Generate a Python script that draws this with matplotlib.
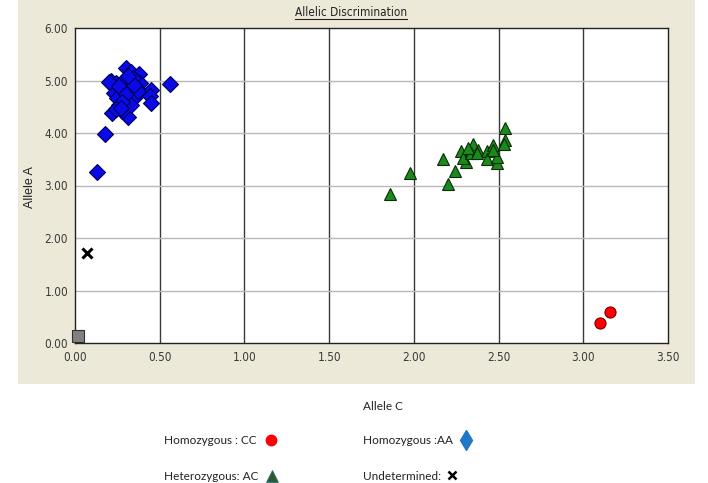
import matplotlib
matplotlib.use('Agg')
import matplotlib.pyplot as plt
from matplotlib.patches import Rectangle
from matplotlib.lines import Line2D

# homozygous AA (blue diamonds)
aa_x = [0.13, 0.18, 0.56, 0.45, 0.44, 0.45, 0.22, 0.31, 0.28, 0.21, 0.30, 0.33,
        0.38, 0.24, 0.29, 0.355, 0.385, 0.23, 0.29, 0.355, 0.26, 0.33, 0.27, 0.32,
        0.365, 0.25, 0.20, 0.26, 0.34, 0.30, 0.37, 0.28, 0.24, 0.35, 0.31, 0.27]
aa_y = [3.25, 3.99, 4.93, 4.82, 4.71, 4.58, 4.39, 4.31, 4.41, 4.99, 5.23, 5.17,
        5.12, 4.95, 5.01, 5.01, 4.95, 4.76, 4.63, 4.69, 4.53, 4.53, 4.83, 4.88,
        4.85, 4.66, 4.98, 4.90, 5.05, 4.75, 4.80, 4.60, 4.45, 4.92, 5.08, 4.47]

# heterozygous AC (green triangles)
ac_x = [1.86, 1.98, 2.20, 2.24, 2.17, 2.28, 2.31, 2.29, 2.35, 2.34, 2.38,
        2.43, 2.43, 2.47, 2.49, 2.49, 2.54, 2.54, 2.53, 2.37, 2.47, 2.32]
ac_y = [2.84, 3.24, 3.03, 3.28, 3.50, 3.66, 3.44, 3.53, 3.80, 3.62, 3.68,
        3.66, 3.50, 3.77, 3.42, 3.55, 4.09, 3.87, 3.80, 3.61, 3.68, 3.72]

# homozygous CC (red circles)
cc_x = [3.10, 3.16]
cc_y = [0.375, 0.60]

# undetermined and no-template control
und_x = [0.07]
und_y = [1.71]
ntc_x = [0.015]
ntc_y = [0.13]

x_ticks = [0.0, 0.5, 1.0, 1.5, 2.0, 2.5, 3.0, 3.5]
y_ticks = [0, 1, 2, 3, 4, 5, 6]

W, H = 708, 483
narrow = dict(family='DejaVu Sans', stretch='condensed')

fig = plt.figure(figsize=(W / 100, H / 100), dpi=100)
fig.patch.set_facecolor('white')

# beige panel
fig.patches.append(Rectangle((18 / W, 1 - 384 / H), (695 - 18) / W, 384 / H,
                             transform=fig.transFigure, facecolor='#ECE9D8',
                             edgecolor='none', zorder=-5))

ax = fig.add_axes([75 / W, 1 - 343 / H, (668 - 75) / W, (343 - 28) / H], zorder=2)
ax.set_facecolor('white')
ax.set_xlim(0, 3.5)
ax.set_ylim(0, 6)
ax.set_xticks(x_ticks)
ax.set_yticks(y_ticks)
ax.set_xticklabels(['%.2f' % v for v in x_ticks], fontsize=8.5, color='#3a3a3a', **narrow)
ax.set_yticklabels(['%.2f' % v for v in y_ticks], fontsize=8.5, color='#3a3a3a', **narrow)
ax.tick_params(length=0)
ax.tick_params(axis='x', pad=6)
ax.tick_params(axis='y', pad=5)

# grid: dark verticals, light horizontals
for v in x_ticks[1:-1]:
    ax.axvline(v, color='#3a3a3a', lw=1.0, zorder=1)
for v in y_ticks[1:-1]:
    ax.axhline(v, color='#b8b8b8', lw=1.0, zorder=1)
for s in ax.spines.values():
    s.set_color('#222222')
    s.set_linewidth(1.0)

ax.plot(aa_x, aa_y, 'D', ms=8, mfc='#0a0ae6', mec='#00005a', mew=0.8, zorder=3)
ax.plot(ac_x, ac_y, '^', ms=9, mfc='#1a8a1a', mec='#0a2a0a', mew=0.8, zorder=3)
ax.plot(cc_x, cc_y, 'o', ms=8, mfc='#ff0000', mec='#700000', mew=0.8, zorder=3)
ax.plot(und_x, und_y, 'x', ms=7, mec='black', mew=2.2, zorder=3)
ax.plot(ntc_x, ntc_y, 's', ms=9, mfc='#808080', mec='#303030', mew=0.8, zorder=4, clip_on=False)

# title with underline
t = fig.text(351 / W, 1 - 12 / H, 'Allelic Discrimination', fontsize=8.5,
             ha='center', va='center', color='#222222', **narrow)
fig.canvas.draw()
bb = t.get_window_extent(renderer=fig.canvas.get_renderer()).transformed(fig.transFigure.inverted())
fig.lines.append(Line2D([bb.x0, bb.x1], [bb.y0 - 0.002, bb.y0 - 0.002],
                        transform=fig.transFigure, color='#222222', lw=0.8))

fig.text(30 / W, 1 - 187 / H, 'Allele A', rotation=90, ha='center', va='center',
         fontsize=9, family=['Liberation Sans', 'DejaVu Sans'], color='#222222')

# labels below the panel
lbl = ['Lato', 'DejaVu Sans']
fig.text(363 / W, 1 - 407 / H, 'Allele C', ha='left', va='center', fontsize=8.5, family=lbl, color='#222222')
fig.text(164 / W, 1 - 440 / H, 'Homozygous : CC', ha='left', va='center', fontsize=8.5, family=lbl, color='#222222')
fig.text(363 / W, 1 - 440 / H, 'Homozygous :AA', ha='left', va='center', fontsize=8.5, family=lbl, color='#222222')
fig.text(164 / W, 1 - 477 / H, 'Heterozygous: AC', ha='left', va='center', fontsize=8.5, family=lbl, color='#222222')
fig.text(363 / W, 1 - 477 / H, 'Undetermined:', ha='left', va='center', fontsize=8.5, family=lbl, color='#222222')

key = fig.add_axes([0, 0, 1, 1], zorder=1)
key.set_xlim(0, W)
key.set_ylim(H, 0)
key.axis('off')
key.plot([271], [440], 'o', ms=7.5, mfc='#ff0000', mec='#ff0000')
key.plot([466], [440], 'd', ms=10, mfc='#1f78c8', mec='#1f78c8')
key.plot([272], [476], '^', ms=9, mfc='#2f5a2c', mec='#2f7080', mew=0.6)
key.plot([452], [475], 'x', ms=6, mec='black', mew=1.8)

fig.savefig('out.png', dpi=100)
